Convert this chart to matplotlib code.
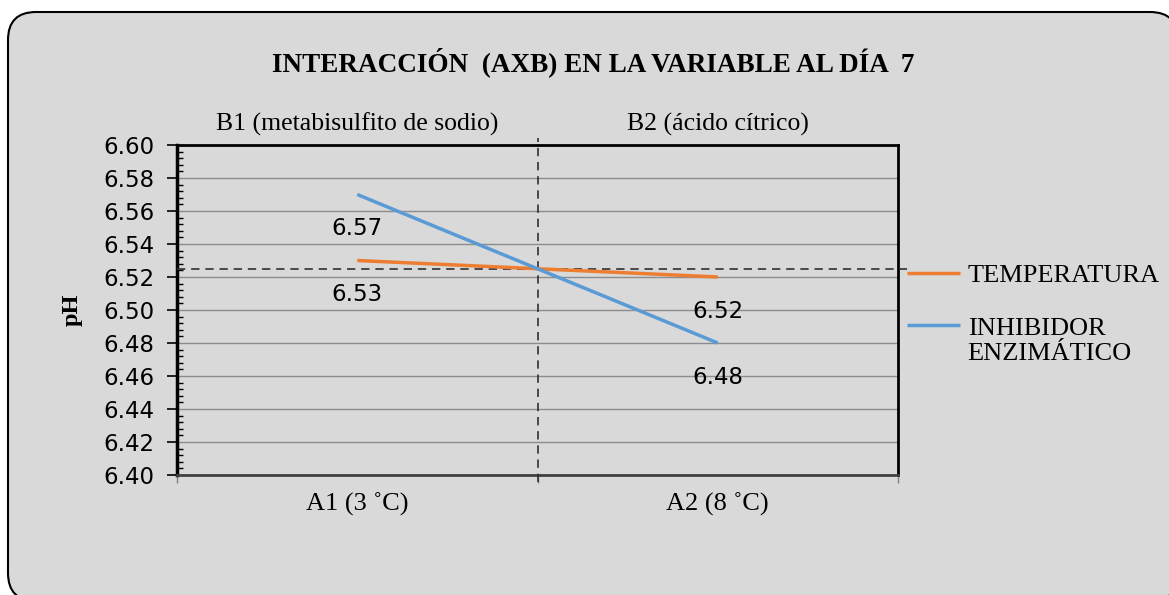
import numpy as np
import matplotlib
matplotlib.use('Agg')
import matplotlib.pyplot as plt
from matplotlib.patches import FancyBboxPatch
from matplotlib.transforms import IdentityTransform
from matplotlib.legend_handler import HandlerLine2D
from matplotlib.ticker import MultipleLocator, FixedLocator, NullFormatter

# datos: pH al día 7 por nivel de temperatura (A) e inhibidor (B)
niveles_a = ['A1 (3 ˚C)', 'A2 (8 ˚C)']
niveles_b = ['B1 (metabisulfito de sodio)', 'B2 (ácido cítrico)']
series = ['TEMPERATURA', 'INHIBIDOR\nENZIMÁTICO']
ph_temperatura = [6.53, 6.52]
ph_inhibidor = [6.57, 6.48]
colores = ['#ED7D31', '#5B9BD5']

serif = 'Liberation Serif'
sans = 'DejaVu Sans'
fondo = '#d9d9d9'


class HandlerPrimeraLinea(HandlerLine2D):
    # coloca la muestra de línea a la altura del primer renglón del texto
    def __init__(self, desplazamiento, **kw):
        super().__init__(**kw)
        self.desplazamiento = desplazamiento

    def create_artists(self, legend, orig_handle, xdescent, ydescent, width, height,
                       fontsize, trans):
        arts = super().create_artists(legend, orig_handle, xdescent, ydescent, width,
                                      height, fontsize, trans)
        for a in arts:
            a.set_ydata(np.asarray(a.get_ydata()) + self.desplazamiento * fontsize)
        return arts


fig = plt.figure(figsize=(11.69, 5.95), dpi=100)
fig.patch.set_facecolor('white')

# marco redondeado del gráfico (en píxeles)
marco = FancyBboxPatch((8, -6), 1170, 589,
                       boxstyle='round,pad=0,rounding_size=28',
                       transform=IdentityTransform(), facecolor=fondo,
                       edgecolor='black', linewidth=1.5, zorder=-5)
fig.add_artist(marco)

ax = fig.add_axes([177 / 1169, 1 - 475 / 595, 721 / 1169, 330 / 595])
ax.set_facecolor(fondo)

x = np.array([0.5, 1.5])
lineas = []
for vals, lab, c in zip([ph_temperatura, ph_inhibidor], series, colores):
    ln, = ax.plot(x, vals, color=c, lw=2.5, label=lab, solid_capstyle='butt', zorder=4)
    lineas.append(ln)
    for xi, v in zip(x, vals):
        ax.annotate(f'{v:.2f}', (xi, v), xytext=(0, -24.5), textcoords='offset points',
                    ha='center', va='center', fontsize=16.5, family=sans, zorder=5)

# líneas de referencia: media general y separación entre niveles de B
media = np.mean(ph_temperatura)
ax.axhline(media, xmin=0, xmax=1.012, color='#303030', lw=1.2, ls=(0, (5, 3.5)),
           clip_on=False, zorder=3)
ax.axvline(1, ymin=-0.02, ymax=1.022, color='#303030', lw=1.2, ls=(0, (5, 3.5)),
           clip_on=False, zorder=3)

ax.set_xlim(0, 2)
ax.set_ylim(6.40, 6.60)

ax.yaxis.set_major_locator(MultipleLocator(0.02))
ax.yaxis.set_minor_locator(MultipleLocator(0.004))
ax.yaxis.set_major_formatter(plt.FormatStrFormatter('%.2f'))
ax.grid(axis='y', which='major', color='#8c8c8c', lw=1)
ax.set_axisbelow(True)

ax.xaxis.set_major_locator(FixedLocator([0, 1, 2]))
ax.xaxis.set_major_formatter(NullFormatter())
ax.xaxis.set_minor_locator(FixedLocator(x))
ax.set_xticklabels(niveles_a, minor=True)

ax.tick_params(axis='y', which='major', direction='out', length=7, width=1.2,
               labelsize=16.5, pad=9, colors='black')
ax.tick_params(axis='y', which='minor', direction='in', length=4.5, width=1)
ax.tick_params(axis='x', which='major', direction='out', length=6, width=1, color='#808080')
ax.tick_params(axis='x', which='minor', length=0, pad=13, labelsize=19)
for t in ax.get_yticklabels():
    t.set_family(sans)
for t in ax.get_xticklabels(minor=True):
    t.set_family(serif)

for s in ['left', 'top', 'right']:
    ax.spines[s].set_color('black')
    ax.spines[s].set_linewidth(2)
ax.spines['left'].set_linewidth(2.5)
ax.spines['bottom'].set_color('#404040')
ax.spines['bottom'].set_linewidth(2)

# etiquetas de niveles de B sobre el área de trazado
for xi, nb in zip(x, niveles_b):
    ax.text(xi, 1.062, nb, transform=ax.get_xaxis_transform(), ha='center', va='center',
            fontsize=18.5, family=serif)

ax.set_ylabel('pH', family=serif, fontsize=17.5, fontweight='bold', labelpad=15)

fig.text(593 / 1169, 1 - 62 / 595, 'INTERACCIÓN  (AXB) EN LA VARIABLE AL DÍA  7',
         ha='center', va='center', fontsize=19.5, fontweight='bold', family=serif)

leg = ax.legend(handles=lineas, loc='upper left', bbox_to_anchor=(1.0125, 0.641),
                frameon=False, prop={'family': serif, 'size': 19}, handlelength=2.0,
                handletextpad=0.3, labelspacing=1.18, borderaxespad=0, borderpad=0,
                handler_map={lineas[1]: HandlerPrimeraLinea(0.6)})

fig.savefig('out.png', dpi=100, facecolor=fig.get_facecolor())
